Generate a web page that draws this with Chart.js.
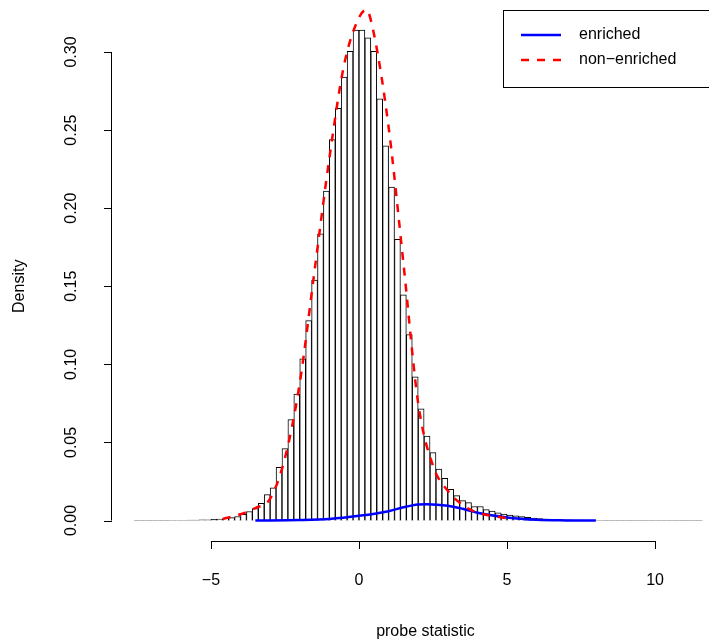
<!DOCTYPE html>
<html>
<head>
<meta charset="utf-8">
<script src="https://cdn.jsdelivr.net/npm/chart.js@4"></script>
<style>
  body { margin: 0; background: #fff; }
  #wrap { width: 709px; height: 643px; }
</style>
</head>
<body>
<div id="wrap"><canvas id="c"></canvas></div>
<script>
// histogram: left edges of the 0.2-wide bins and densities
const binStart = -7.6;
const binWidth = 0.2;
const densities = [
  0.0001, 0.0001, 0.0001, 0.0001, 0.0001, 0.0001, 0.0002, 0.0002, 0.0002, 0.0003, // -7.6 .. -5.8
  0.0003, 0.0004, 0.0005, 0.0007, 0.0010, 0.0014, 0.0019, 0.0026, 0.0040, 0.0058, // -5.6 .. -3.8
  0.0077, 0.0110, 0.0166, 0.0210, 0.0340, 0.0460, 0.0646, 0.0810, 0.1036, 0.1280, // -3.6 .. -1.8
  0.1540, 0.1835, 0.2110, 0.2440, 0.2640, 0.2840, 0.3005, 0.3140, 0.3140, 0.3090, // -1.6 .. 0.2
  0.3005, 0.2700, 0.2400, 0.2135, 0.1800, 0.1445, 0.1190, 0.0920, 0.0716, 0.0540, // 0.4 .. 2.2
  0.0435, 0.0330, 0.0270, 0.0200, 0.0160, 0.0128, 0.0115, 0.0090, 0.0090, 0.0070, // 2.4 .. 4.2
  0.0060, 0.0050, 0.0042, 0.0035, 0.0030, 0.0025, 0.0020, 0.0016, 0.0013, 0.0010, // 4.4 .. 6.2
  0.0008, 0.0006, 0.0005, 0.0004, 0.0003, 0.0003, 0.0002, 0.0002, 0.0002, 0.0001, // 6.4 .. 8.2
  0.0001, 0.0001, 0.0001, 0.0001, 0.0001, 0.0001, 0.0001, 0.0001, 0.0001, 0.0001, // 8.4 .. 10.2
  0.0001, 0.0001, 0.0001, 0.0001, 0.0001, 0.0001                                   // 10.4 .. 11.4
];

// fitted densities
const nonEnrichedX = [-4.6, -4, -3.5, -3, -2.5, -2, -1.5, -1, -0.5, 0, 0.25, 0.5, 1, 1.5, 2, 2.5, 3, 3.5, 4, 4.5, 5];
const nonEnrichedY = [0.001, 0.004, 0.008, 0.014, 0.040, 0.088, 0.160, 0.232, 0.292, 0.322, 0.327, 0.312, 0.252, 0.165, 0.075, 0.035, 0.019, 0.010, 0.005, 0.003, 0.0015];
const enrichedX = [-3.5, -2, -1, 0, 1, 1.5, 2, 2.3, 3, 3.5, 4, 5, 6, 7, 8];
const enrichedY = [0, 0.0003, 0.001, 0.003, 0.006, 0.0085, 0.0103, 0.0105, 0.0095, 0.0075, 0.005, 0.002, 0.0005, 0.0001, 0];

const xTicks = [-5, 0, 5, 10];
const yTicks = [0, 0.05, 0.10, 0.15, 0.20, 0.25, 0.30];

const font = '"Liberation Sans", Arial, sans-serif';

// bars centred in their bins
const histData = densities.map((d, i) => ({ x: binStart + binWidth * (i + 0.5), y: d }));
const pts = (xs, ys) => xs.map((x, i) => ({ x: x, y: ys[i] }));

// R-style axes and the legend box
const rAxes = {
  id: 'rAxes',
  afterDraw(chart) {
    const ctx = chart.ctx;
    const sx = chart.scales.x, sy = chart.scales.y;
    const base = chart.chartArea.bottom, left = chart.chartArea.left;
    ctx.save();
    ctx.strokeStyle = '#000';
    ctx.lineWidth = 1;
    ctx.fillStyle = '#000';
    ctx.font = '16px ' + font;

    // axe des x
    ctx.beginPath();
    ctx.moveTo(sx.getPixelForValue(xTicks[0]), base + 0.5);
    ctx.lineTo(sx.getPixelForValue(xTicks[xTicks.length - 1]), base + 0.5);
    xTicks.forEach(t => {
      const p = Math.round(sx.getPixelForValue(t)) + 0.5;
      ctx.moveTo(p, base);
      ctx.lineTo(p, base + 8);
    });
    ctx.stroke();
    ctx.textAlign = 'center';
    ctx.textBaseline = 'middle';
    xTicks.forEach(t => {
      ctx.fillText(t < 0 ? '\u2212' + Math.abs(t) : String(t), sx.getPixelForValue(t), base + 40);
    });
    ctx.fillText('probe statistic', (sx.left + sx.right) / 2 + 15, base + 91);

    // axe des y
    ctx.beginPath();
    ctx.moveTo(left - 0.5, sy.getPixelForValue(yTicks[0]));
    ctx.lineTo(left - 0.5, sy.getPixelForValue(yTicks[yTicks.length - 1]));
    yTicks.forEach(t => {
      const p = Math.round(sy.getPixelForValue(t)) + 0.5;
      ctx.moveTo(left, p);
      ctx.lineTo(left - 8, p);
    });
    ctx.stroke();
    yTicks.forEach(t => {
      ctx.save();
      ctx.translate(left - 40, sy.getPixelForValue(t));
      ctx.rotate(-Math.PI / 2);
      ctx.fillText(t.toFixed(2), 0, 0);
      ctx.restore();
    });
    ctx.save();
    ctx.translate(20, (sy.getPixelForValue(0) + sy.getPixelForValue(0.3)) / 2);
    ctx.rotate(-Math.PI / 2);
    ctx.fillText('Density', 0, 0);
    ctx.restore();

    // légende
    ctx.fillStyle = '#fff';
    ctx.fillRect(503, 10, 220, 77);
    ctx.strokeRect(503.5, 10.5, 220, 77);
    ctx.lineWidth = 2.5;
    ctx.strokeStyle = '#0000ff';
    ctx.beginPath();
    ctx.moveTo(521, 35);
    ctx.lineTo(561, 35);
    ctx.stroke();
    ctx.strokeStyle = '#ff0000';
    ctx.setLineDash([8, 8]);
    ctx.beginPath();
    ctx.moveTo(521, 60);
    ctx.lineTo(561, 60);
    ctx.stroke();
    ctx.setLineDash([]);
    ctx.fillStyle = '#000';
    ctx.textAlign = 'left';
    ctx.fillText('enriched', 579, 35);
    ctx.fillText('non\u2212enriched', 579, 60);
    ctx.restore();
  }
};

new Chart(document.getElementById('c'), {
  data: {
    datasets: [
      {
        type: 'bar',
        data: histData,
        backgroundColor: '#ffffff',
        borderColor: '#000000',
        borderWidth: 1,
        barPercentage: 1,
        categoryPercentage: 1,
        order: 3,
      },
      {
        type: 'line',
        data: pts(nonEnrichedX, nonEnrichedY),
        borderColor: '#ff0000',
        borderWidth: 2.5,
        borderDash: [8, 8],
        pointRadius: 0,
        tension: 0.4,
        cubicInterpolationMode: 'monotone',
        order: 1,
      },
      {
        type: 'line',
        data: pts(enrichedX, enrichedY),
        borderColor: '#0000ff',
        borderWidth: 2.5,
        pointRadius: 0,
        cubicInterpolationMode: 'monotone',
        order: 2,
      },
    ],
  },
  options: {
    responsive: true,
    maintainAspectRatio: false,
    animation: false,
    layout: { padding: { left: 112, right: 0, top: 0, bottom: 102 } },
    scales: {
      x: { type: 'linear', min: -8.34, max: 11.82, display: false, offset: false },
      y: { min: -0.0131, max: 0.3333, display: false },
    },
    plugins: { legend: { display: false }, tooltip: { enabled: false } },
  },
  plugins: [rAxes],
});
</script>
</body>
</html>
